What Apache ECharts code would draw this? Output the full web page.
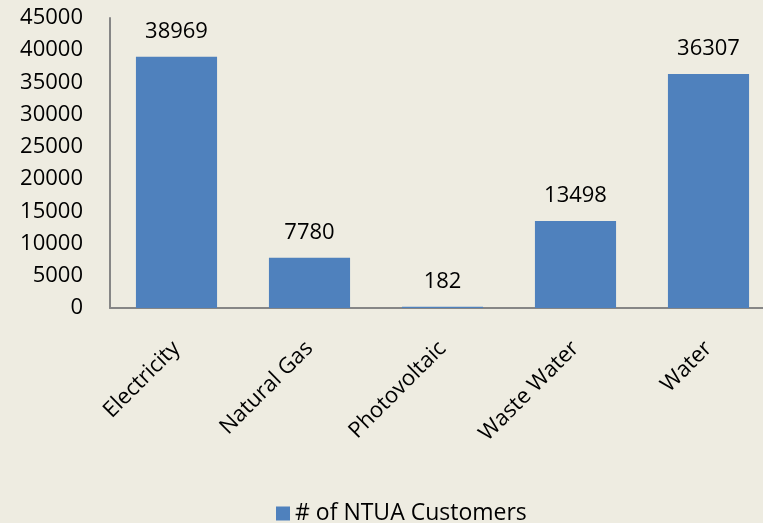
<!DOCTYPE html>
<html>
<head>
<meta charset="utf-8">
<script src="https://cdn.jsdelivr.net/npm/echarts@6/dist/echarts.min.js"></script>
<style>
  html, body { margin: 0; padding: 0; background: #eeece1; }
  #chart { width: 763px; height: 523px; }
</style>
</head>
<body>
<div id="chart"></div>
<script>
var categories = ['Electricity', 'Natural Gas', 'Photovoltaic', 'Waste Water', 'Water'];
var customers = [38969, 7780, 182, 13498, 36307];
var seriesName = '# of NTUA Customers';

var chartDom = document.getElementById('chart');
var myChart = echarts.init(chartDom, null, { renderer: 'canvas' });

var font = 'Open Sans, Liberation Sans, sans-serif';

var option = {
  backgroundColor: '#eeece1',
  animation: false,
  textStyle: {
    fontFamily: font
  },
  grid: {
    left: 110,
    top: 18,
    width: 665,
    height: 290,
    outerBoundsMode: 'none'
  },
  legend: {
    top: 497,
    left: 271,
    itemWidth: 14,
    itemHeight: 14,
    itemGap: 6,
    icon: 'rect',
    textStyle: { fontSize: 23, color: '#000', fontFamily: font },
    data: [seriesName]
  },
  xAxis: {
    type: 'category',
    data: categories,
    axisLine: { lineStyle: { color: '#868686', width: 2 } },
    axisTick: { show: false },
    axisLabel: {
      rotate: 45,
      margin: 37,
      fontSize: 22,
      color: '#000',
      fontFamily: font
    }
  },
  yAxis: {
    type: 'value',
    min: 0,
    max: 45000,
    interval: 5000,
    axisLine: { show: true, lineStyle: { color: '#868686', width: 2 } },
    axisTick: { show: false },
    splitLine: { show: false },
    axisLabel: {
      margin: 27,
      fontSize: 22,
      color: '#000',
      fontFamily: font,
      formatter: function (v) { return String(v); }
    }
  },
  series: [
    {
      name: seriesName,
      type: 'bar',
      data: customers,
      barWidth: '61%',
      itemStyle: { color: '#4f81bd' },
      label: {
        show: true,
        position: 'top',
        distance: 14,
        fontSize: 22,
        color: '#000',
        fontFamily: font
      }
    }
  ]
};
myChart.setOption(option, true);
</script>
</body>
</html>
